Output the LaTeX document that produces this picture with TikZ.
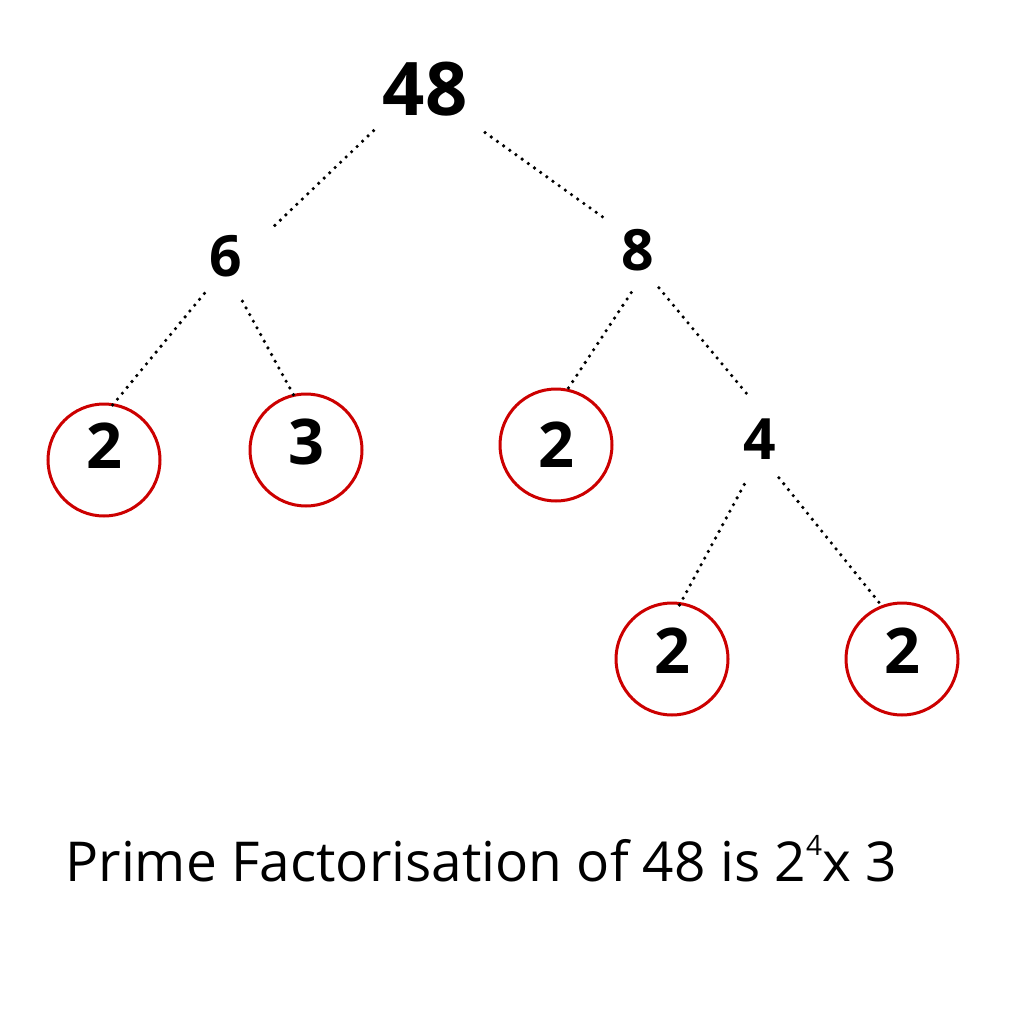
\documentclass[tikz,border=0pt]{standalone}
\usepackage{fontspec}
\setmainfont{Open Sans}
\usetikzlibrary{positioning}
\definecolor{primered}{RGB}{204,0,0}

\begin{document}
\begin{tikzpicture}[x=1pt, y=-1pt,
  factor/.style={circle, inner sep=0pt, minimum size=86pt, font=\fontsize{57}{57}\selectfont\bfseries},
  prime/.style={circle, draw=primered, line width=3pt, minimum size=112pt, inner sep=0pt, text depth=16pt, font=\fontsize{63}{63}\selectfont\bfseries},
  dotline/.style={line width=3.6pt, line cap=round, dash pattern=on 0pt off 7.6pt}]
\useasboundingbox (0,0) rectangle (1010,1024);
\node [factor, minimum size=132pt, font=\fontsize{74}{74}\selectfont\bfseries] (n48) at (425,89) {48};
\node [factor] (n6) at (226,256) {6};
\node [factor] (n8) at (638,250) {8};
\node [factor] (n4) at (760,439) {4};
\node [prime, text depth=28pt] (p1) at (104,460) {2};
\node [prime] (p2) at (306,450) {3};
\node [prime, text depth=0pt] (p3) at (556,445) {2};
\node [prime] (p4) at (672,659) {2};
\node [prime] (p5) at (902,659) {2};
\draw [dotline, shorten >=12pt] (n48.219) -- (n6.28);
\draw [dotline, shorten <=8pt] (n48.324) -- (n8.136);
\draw [dotline, shorten >=-7pt] (n6.240) -- (p1.80);
\draw [dotline, shorten <=5pt, shorten >=-8pt] (n6.289) -- (p2.103);
\draw [dotline] (n8.261) -- (p3.78);
\draw [dotline] (n8.299) -- (n4.104);
\draw [dotline, shorten <=5pt, shorten >=-6pt] (n4.252) -- (p4.81);
\draw [dotline, shorten >=3pt] (n4.296) -- (p5.111);
\node [anchor=base west, font=\fontsize{55}{55}\selectfont] (caption) at (62,881) {Prime Factorisation of 48 is 2{\fontsize{28}{28}\selectfont\raisebox{26pt}{4}}x 3};
\end{tikzpicture}
\end{document}
